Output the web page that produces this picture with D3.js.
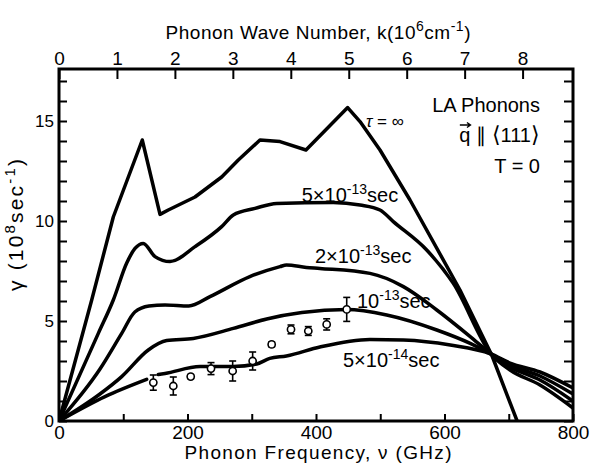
<!DOCTYPE html>
<html>
<head>
<meta charset="utf-8">
<script src="https://cdn.jsdelivr.net/npm/d3@7"></script>
<style>
  body { margin: 0; background: #fff; }
  text { font-family: "Liberation Sans", Arial, sans-serif; fill: #000; }
</style>
</head>
<body>
<div id="chart"></div>
<script>
// tau = infinity
var inf_freq = [0, 50.9, 84.5, 129.6, 157.2, 170.1, 211.7, 253.2, 279.1, 312.8, 344.0, 384.4, 449.3, 468.5, 499.6, 546.3, 624.1, 673.5, 713];
var inf_gamma = [0, 6.05, 10.2, 14.05, 10.33, 10.55, 11.2, 12.2, 13.05, 14.05, 13.97, 13.55, 15.67, 14.97, 13.55, 11.05, 6.55, 3.3, 0];

// 5e-13 sec
var t5e13_freq = [0, 61.2, 84.5, 105.4, 118.3, 131.2, 149.4, 172.8, 211.7, 253.2, 271.3, 305.1, 338.8, 426.9, 468.5, 499.6, 520.3, 572.3, 613.7, 672.4, 702, 748.6, 800];
var t5e13_gamma = [0, 4.38, 6.05, 7.9, 8.63, 8.88, 8.22, 7.97, 8.72, 9.72, 10.3, 10.63, 10.88, 10.93, 10.8, 10.55, 9.97, 8.55, 6.88, 3.35, 2.55, 1.8, 0.65];

// 2e-13 sec
var t2e13_freq = [0, 63.8, 97.6, 118, 140, 165, 202, 235, 297, 344, 354, 385, 406, 484, 536, 588, 640, 672.4, 702, 748.6, 800];
var t2e13_gamma = [0, 2.6, 4.38, 5.45, 5.75, 5.8, 5.75, 6.22, 7.22, 7.72, 7.8, 7.68, 7.63, 7.38, 6.72, 5.55, 4.22, 3.35, 2.7, 2.05, 1.0];

// 1e-13 sec
var t1e13_freq = [0, 63.8, 97.6, 139, 167.6, 209, 271.3, 323.3, 378, 447.8, 510, 588, 640, 672.4, 702, 748.6, 800];
var t1e13_gamma = [0, 1.35, 2.22, 3.55, 4.02, 4.13, 4.63, 5.1, 5.42, 5.57, 5.3, 4.55, 3.88, 3.35, 2.8, 2.25, 1.35];

// 5e-14 sec (line broken around the first data point)
var t5e14_freq = [0, 71.6, 136.5, 146, 154.6, 165, 219.5, 271.3, 307.7, 328, 354, 406, 484, 536, 609, 672.4, 702, 748.6, 800];
var t5e14_gamma = [0, 1.22, 2.08, null, 2.33, 2.38, 2.72, 2.72, 2.85, 3.13, 3.25, 3.7, 4.08, 4.05, 3.8, 3.35, 2.9, 2.45, 1.65];

// measured points
var meas_freq = [146.8, 177.9, 205, 236.6, 270.3, 301.4, 331, 361.1, 388, 416.6, 447.8];
var meas_gamma = [1.92, 1.75, 2.22, 2.62, 2.5, 3.0, 3.83, 4.58, 4.5, 4.83, 5.58];
var meas_err = [0.38, 0.45, 0.1, 0.3, 0.5, 0.45, 0.12, 0.22, 0.22, 0.28, 0.6];

var freq_ticks = [0, 100, 200, 300, 400, 500, 600, 700, 800];
var freq_labels = ["0", "", "200", "", "400", "", "600", "", "800"];
var k_ticks = [0, 1, 2, 3, 4, 5, 6, 7, 8];
var gamma_ticks = d3.range(0, 18);
var gamma_labels = {0: "0", 5: "5", 10: "10", 15: "15"};

var width = 592,
    height = 464;
var m_left = 59, m_right = 573, m_top = 69, m_bottom = 421;

var svg = d3.select("#chart").append("svg")
    .attr("width", width)
    .attr("height", height);

var x = d3.scaleLinear().domain([0, 800]).range([m_left, m_right]);
var y = d3.scaleLinear().domain([0, 17.6]).range([m_bottom, m_top]);
var kx = d3.scaleLinear().domain([0, 8.87]).range([m_left, m_right]);

// axes, all ticks pointing inside the frame
var styleAxis = function (g, fs) {
    g.select(".domain").remove();
    g.selectAll(".tick line").attr("stroke", "#000").attr("stroke-width", 2);
    g.selectAll(".tick text").attr("font-size", fs).attr("fill", "#000")
        .style("font-family", '"Liberation Sans", Arial, sans-serif');
};

svg.append("g")
    .attr("transform", "translate(0," + m_bottom + ")")
    .call(d3.axisBottom(x).tickValues(freq_ticks).tickSize(-7).tickSizeOuter(0).tickPadding(5)
        .tickFormat(function (d, i) { return freq_labels[i]; }))
    .call(styleAxis, 19);

svg.append("g")
    .attr("transform", "translate(0," + m_top + ")")
    .call(d3.axisTop(kx).tickValues(k_ticks).tickSize(-10).tickSizeOuter(0).tickPadding(4))
    .call(styleAxis, 19);

svg.append("g")
    .attr("transform", "translate(" + m_left + ",0)")
    .call(d3.axisLeft(y).tickValues(gamma_ticks).tickSize(-8).tickSizeOuter(0).tickPadding(5)
        .tickFormat(function (d) { return gamma_labels[d] || ""; }))
    .call(styleAxis, 17);

svg.append("g")
    .attr("transform", "translate(" + m_right + ",0)")
    .call(d3.axisRight(y).tickValues(gamma_ticks).tickSize(-9).tickSizeOuter(0)
        .tickFormat(function () { return ""; }))
    .call(styleAxis, 17);

svg.append("rect")
    .attr("x", m_left)
    .attr("y", m_top)
    .attr("width", m_right - m_left)
    .attr("height", m_bottom - m_top)
    .attr("fill", "none")
    .attr("stroke", "#000")
    .attr("stroke-width", 3);

// curves
var zipPts = function (fs, gs) {
    return fs.map(function (f, i) { return [f, gs[i]]; });
};

var curves = [
    {pts: zipPts(inf_freq, inf_gamma), curve: d3.curveLinear},
    {pts: zipPts(t5e13_freq, t5e13_gamma), curve: d3.curveMonotoneX},
    {pts: zipPts(t2e13_freq, t2e13_gamma), curve: d3.curveMonotoneX},
    {pts: zipPts(t1e13_freq, t1e13_gamma), curve: d3.curveMonotoneX},
    {pts: zipPts(t5e14_freq, t5e14_gamma), curve: d3.curveMonotoneX}
];

svg.append("clipPath").attr("id", "plotclip")
    .append("rect")
    .attr("x", m_left).attr("y", m_top)
    .attr("width", m_right - m_left).attr("height", m_bottom - m_top);

var plot = svg.append("g").attr("clip-path", "url(#plotclip)");

plot.selectAll(".curve")
    .data(curves)
    .enter()
    .append("path")
    .attr("class", "curve")
    .attr("d", function (c) {
        return d3.line()
            .defined(function (d) { return d[1] != null; })
            .x(function (d) { return x(d[0]); })
            .y(function (d) { return y(d[1]); })
            .curve(c.curve)(c.pts);
    })
    .attr("fill", "none")
    .attr("stroke", "#000")
    .attr("stroke-width", 3.5)
    .attr("stroke-linejoin", "round")
    .attr("stroke-linecap", "round");

// measured points with error bars
var meas = meas_freq.map(function (f, i) {
    return {f: f, g: meas_gamma[i], e: meas_err[i]};
});

var pts = svg.selectAll(".pt")
    .data(meas)
    .enter()
    .append("g")
    .attr("class", "pt");

pts.append("line")
    .attr("x1", function (d) { return x(d.f); })
    .attr("x2", function (d) { return x(d.f); })
    .attr("y1", function (d) { return y(d.g - d.e); })
    .attr("y2", function (d) { return y(d.g + d.e); })
    .attr("stroke", "#000").attr("stroke-width", 1.6);

[-1, 1].forEach(function (s) {
    pts.append("line")
        .attr("x1", function (d) { return x(d.f) - 3.5; })
        .attr("x2", function (d) { return x(d.f) + 3.5; })
        .attr("y1", function (d) { return y(d.g + s * d.e); })
        .attr("y2", function (d) { return y(d.g + s * d.e); })
        .attr("stroke", "#000").attr("stroke-width", 1.6);
});

pts.append("circle")
    .attr("cx", function (d) { return x(d.f); })
    .attr("cy", function (d) { return y(d.g); })
    .attr("r", 3.6)
    .attr("fill", "#fff")
    .attr("stroke", "#000")
    .attr("stroke-width", 1.6);

// curve labels
var sciLabel = function (px, py, pre, exp) {
    var t = svg.append("text").attr("x", px).attr("y", py).attr("font-size", 20);
    t.append("tspan").text(pre);
    t.append("tspan").attr("dy", -8).attr("font-size", 14).text(exp);
    t.append("tspan").attr("dy", 8).attr("font-size", 20).text("sec");
};

sciLabel(x(377.8), y(10.95), "5\u00d710", "-13");
sciLabel(x(398.4), y(7.9), "2\u00d710", "-13");
sciLabel(x(463.8), y(5.65), "10", "-13");
sciLabel(x(442), y(2.72), "5\u00d710", "-14");

var tauLab = svg.append("text")
    .attr("x", x(477.8))
    .attr("y", y(14.7))
    .attr("font-size", 17);
tauLab.append("tspan").style("font-style", "italic").text("\u03c4");
tauLab.append("tspan").text(" = \u221e");

// legend block
var legX = 540;
svg.append("text").attr("x", legX).attr("y", 112).attr("text-anchor", "end")
    .attr("font-size", 20).text("LA Phonons");
var qText = svg.append("text").attr("x", legX).attr("y", 142).attr("text-anchor", "end")
    .attr("font-size", 20);
qText.append("tspan").text("q \u2225 ");
qText.append("tspan").attr("font-size", 22).text("\u27e8");
qText.append("tspan").text("111");
qText.append("tspan").attr("font-size", 22).text("\u27e9");
svg.append("text").attr("x", legX).attr("y", 173).attr("text-anchor", "end")
    .attr("font-size", 20).text("T = 0");

// vector arrow over q
var qStart = qText.node().getStartPositionOfChar(0);
var qW = qText.node().getSubStringLength(0, 1);
var ay = 142 - 17;
svg.append("path")
    .attr("d", "M" + (qStart.x + 0.5) + "," + ay + "H" + (qStart.x + qW) +
        "M" + (qStart.x + qW - 3.5) + "," + (ay - 2.5) + "L" + (qStart.x + qW) + "," + ay +
        "L" + (qStart.x + qW - 3.5) + "," + (ay + 2.5))
    .attr("fill", "none")
    .attr("stroke", "#000")
    .attr("stroke-width", 1.4);

// axis titles
var topTitle = svg.append("text")
    .attr("x", 318).attr("y", 39)
    .attr("text-anchor", "middle")
    .attr("font-size", 19)
    .attr("textLength", 305)
    .attr("lengthAdjust", "spacing");
topTitle.append("tspan").text("Phonon Wave Number,  k(10");
topTitle.append("tspan").attr("dy", -8).attr("font-size", 14).text("6");
topTitle.append("tspan").attr("dy", 8).text("cm");
topTitle.append("tspan").attr("dy", -8).attr("font-size", 14).text("-1");
topTitle.append("tspan").attr("dy", 8).text(")");

svg.append("text")
    .attr("x", 318).attr("y", 459)
    .attr("text-anchor", "middle")
    .attr("font-size", 19)
    .attr("textLength", 267)
    .attr("lengthAdjust", "spacing")
    .text("Phonon Frequency, \u03bd (GHz)");

var yTitle = svg.append("text")
    .attr("transform", "translate(23,225) rotate(-90)")
    .attr("text-anchor", "middle")
    .attr("font-size", 21)
    .attr("textLength", 132)
    .attr("lengthAdjust", "spacing");
yTitle.append("tspan").text("\u03b3  (10");
yTitle.append("tspan").attr("dy", -8).attr("font-size", 15).text("8");
yTitle.append("tspan").attr("dy", 8).text("sec");
yTitle.append("tspan").attr("dy", -8).attr("font-size", 15).text("-1");
yTitle.append("tspan").attr("dy", 8).text(")");
</script>
</body>
</html>
